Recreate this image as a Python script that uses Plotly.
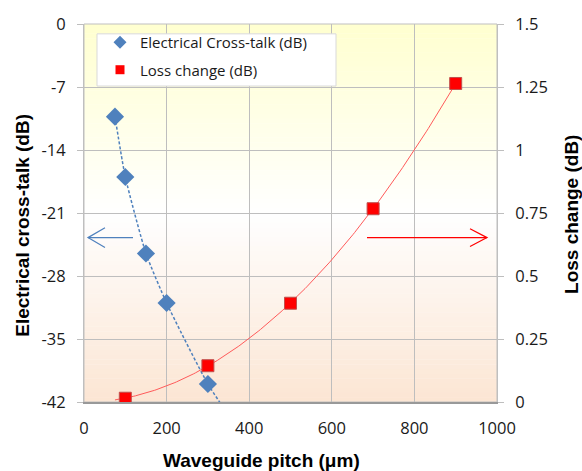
import numpy as np
import plotly.graph_objects as go

# ---------------- data ----------------
xt_pitch = [75, 100, 150, 200, 300, 400]          # last point lies below the axis range (line runs off-chart)
xt_db = [-10.3, -17.0, -25.5, -31.0, -40.0, -46.8]

loss_pitch = [100, 300, 500, 700, 900]
loss_db = [0.015, 0.144, 0.392, 0.767, 1.264]
trend_start = 75

x_ticks = [0, 200, 400, 600, 800, 1000]
y1_ticks = [0, -7, -14, -21, -28, -35, -42]
y2_ticks = [0, 0.25, 0.5, 0.75, 1, 1.25, 1.5]

# ---------------- layout geometry ----------------
W, H = 582, 471
L, R, T, B = 84, 497, 18, 402


def px(x):
    return (x - L) / (R - L)


def py(y):
    return 1 - (y - T) / (B - T)


BLUE = "#4F81BD"
RED = "#FF0000"
FONT = "Open Sans"
TFONT = "Liberation Sans"

fig = go.Figure()

# blue smoothed dashed line
fig.add_trace(go.Scatter(
    x=xt_pitch, y=xt_db, mode="lines", yaxis="y",
    line=dict(color=BLUE, width=1.5, dash="3px,2px", shape="spline", smoothing=0.5),
    showlegend=False, hoverinfo="skip"))

# red quadratic trendline
coef = np.polyfit(loss_pitch, loss_db, 2)
tx = np.linspace(trend_start, max(loss_pitch), 200)
fig.add_trace(go.Scatter(
    x=tx, y=np.polyval(coef, tx), mode="lines", yaxis="y2",
    line=dict(color="#FF5A5A", width=1),
    showlegend=False, hoverinfo="skip"))

fig.add_trace(go.Scatter(
    x=xt_pitch, y=xt_db, mode="markers", yaxis="y", showlegend=False,
    marker=dict(symbol="diamond", size=14, color=BLUE, line=dict(width=0))))

fig.add_trace(go.Scatter(
    x=loss_pitch, y=loss_db, mode="markers", yaxis="y2", showlegend=False,
    marker=dict(symbol="square", size=12, color=RED, line=dict(color="#C0504D", width=1))))

# legend entries (smaller symbols, as in the reference legend)
fig.add_trace(go.Scatter(
    x=[None], y=[None], mode="markers", yaxis="y",
    name="Electrical Cross-talk (dB)", legendgroup="a",
    marker=dict(symbol="diamond", size=10, color=BLUE, line=dict(width=0))))
fig.add_trace(go.Scatter(
    x=[None], y=[None], mode="markers", yaxis="y2",
    name="Loss change (dB)", legendgroup="b",
    marker=dict(symbol="square", size=9, color=RED, line=dict(width=0))))

# gradient background
shapes = []
N = 80
top = np.array([255, 255, 208])
mid = np.array([255, 255, 255])
bot = np.array([252, 230, 212])
for i in range(N):
    f = (i + 0.5) / N  # 0 at top, 1 at bottom
    if f < 0.5:
        c = top + (mid - top) * (f / 0.5)
    else:
        c = mid + (bot - mid) * ((f - 0.5) / 0.5)
    c = c.astype(int)
    shapes.append(dict(type="rect", xref="paper", yref="paper",
                       x0=0, x1=1, y0=1 - (i + 1) / N - 0.001, y1=1 - i / N,
                       fillcolor=f"rgb({c[0]},{c[1]},{c[2]})", line=dict(width=0), layer="below"))

# plot border
shapes.append(dict(type="rect", xref="paper", yref="paper", x0=0, x1=1, y0=0, y1=1,
                   line=dict(color="#BFBFBF", width=1), layer="below"))

# legend box
shapes.append(dict(type="rect", xref="paper", yref="paper",
                   x0=px(97), x1=px(336), y0=py(81), y1=py(28),
                   fillcolor="white", line=dict(color="#D9D9D9", width=1), layer="above"))

# arrows
ya = 235
shapes.append(dict(type="line", xref="paper", yref="paper", x0=px(133), x1=px(88), y0=py(ya), y1=py(ya),
                   line=dict(color=BLUE, width=1.2)))
shapes.append(dict(type="path", xref="paper", yref="paper",
                   path=f"M {px(105)},{py(ya-10)} L {px(88)},{py(ya)} L {px(105)},{py(ya+10)}",
                   line=dict(color=BLUE, width=1.2)))
shapes.append(dict(type="line", xref="paper", yref="paper", x0=px(367), x1=px(487), y0=py(ya), y1=py(ya),
                   line=dict(color=RED, width=1.2)))
shapes.append(dict(type="path", xref="paper", yref="paper",
                   path=f"M {px(470)},{py(ya-9)} L {px(487)},{py(ya)} L {px(470)},{py(ya+9)}",
                   line=dict(color=RED, width=1.2)))

tfont = dict(family=TFONT, size=19, color="black", weight="bold")
annotations = [
    dict(text="Waveguide pitch (μm)", xref="paper", yref="paper", x=px(261), y=py(461),
         showarrow=False, font=tfont, xanchor="center", yanchor="middle"),
    dict(text="Electrical cross-talk (dB)", xref="paper", yref="paper", x=px(23), y=py(223),
         showarrow=False, textangle=-90, font=tfont, xanchor="center", yanchor="middle"),
    dict(text="Loss change (dB)", xref="paper", yref="paper", x=px(572), y=py(212),
         showarrow=False, textangle=-90, font=tfont, xanchor="center", yanchor="middle"),
]

tickfont = dict(family=FONT, size=16.5, color="#1a1a1a")
GRID = "#BEBEBE"

fig.update_layout(
    width=W, height=H,
    margin=dict(l=L, r=W - R, t=T, b=H - B),
    paper_bgcolor="white", plot_bgcolor="white",
    shapes=shapes, annotations=annotations,
    xaxis=dict(range=[0, 1000], tickvals=x_ticks, ticktext=[str(v) for v in x_ticks],
               showgrid=True, gridcolor=GRID, gridwidth=1, zeroline=False,
               showline=True, linecolor="#999999", linewidth=1.5, ticks="",
               ticklabelstandoff=10, tickfont=tickfont),
    yaxis=dict(range=[-42, 0], tickvals=y1_ticks, ticktext=[str(v) for v in y1_ticks],
               showgrid=True, gridcolor=GRID, gridwidth=1, zeroline=False,
               showline=True, linecolor="#BFBFBF", linewidth=1,
               ticks="outside", ticklen=6, tickcolor=GRID, ticklabelstandoff=8, tickfont=tickfont),
    yaxis2=dict(range=[0, 1.5], tickvals=y2_ticks, ticktext=[str(v) for v in y2_ticks],
                overlaying="y", side="right", showgrid=False, zeroline=False,
                showline=True, linecolor="#BFBFBF", linewidth=1,
                ticks="outside", ticklen=6, tickcolor=GRID, ticklabelstandoff=8, tickfont=tickfont),
    legend=dict(x=px(100), y=py(20), xanchor="left", yanchor="top",
                bgcolor="rgba(0,0,0,0)", borderwidth=0,
                font=dict(family=FONT, size=15, color="#1a1a1a"),
                traceorder="grouped", tracegroupgap=5, itemwidth=30),
    showlegend=True,
)

fig.write_html("out.html")
